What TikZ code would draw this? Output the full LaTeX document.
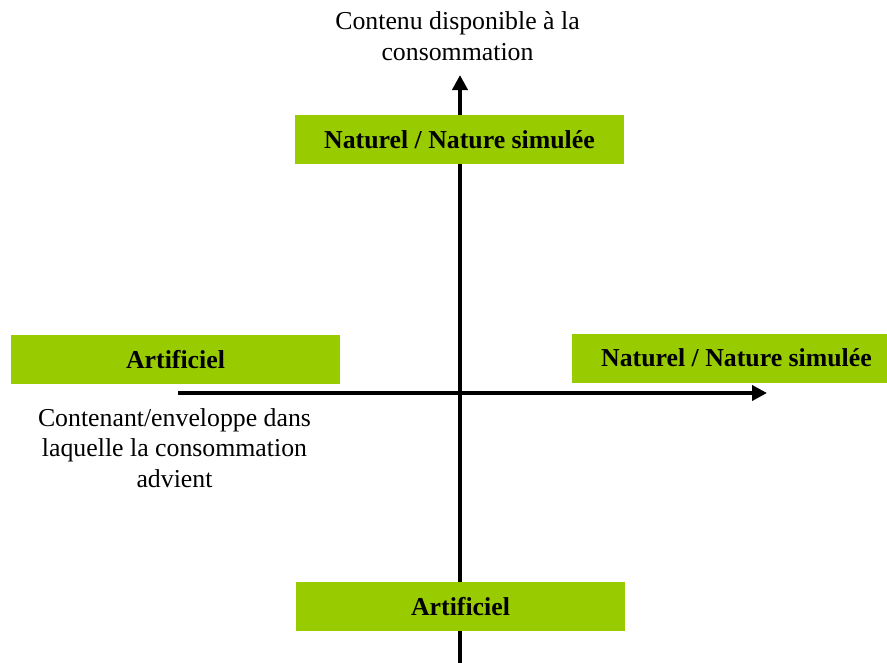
\documentclass[tikz,border=0pt]{standalone}
\usepackage{fontspec}
\setmainfont{Liberation Serif}
\usetikzlibrary{arrows.meta, positioning}
\definecolor{boxGreen}{RGB}{153,204,0}

\begin{document}
\begin{tikzpicture}[x=1pt, y=-1pt,
    every node/.style={align=center, inner sep=0pt, font=\fontsize{25.8}{30.5}\selectfont},
    greenbox/.style={rectangle, fill=boxGreen, minimum width=329pt, minimum height=49pt, font=\fontsize{25.8}{30.5}\selectfont\bfseries},
    axisarrow/.style={line width=4pt, -{Triangle[length=15pt, width=15pt]}}
  ]
    \useasboundingbox (0,0) rectangle (887,662);
    \clip (0,0) rectangle (887,662);

    % Axis end points
    \coordinate (VBottom) at (460,665);
    \coordinate (VTop) at (460,75);
    \coordinate (HLeft) at (178,393);
    \coordinate (HRight) at (767,393);

    % Axes
    \draw[axisarrow] (VBottom) -- (VTop);
    \draw[axisarrow] (HLeft) -- (HRight);

    % Green boxes
    \node[greenbox] (ContentNat) at (459.5,139.5) {Naturel / Nature simulée};
    \node[greenbox] (ContentArt) at (460.5,606.5) {Artificiel};
    \node[greenbox] (EnvArt) at (175.5,359.5) {Artificiel};
    \node[greenbox] (EnvNat) at (736.5,358) {Naturel / Nature simulée};

    % Axis labels (base = last line)
    \node[anchor=base] (ContentLabel) at (457.5,60) {Contenu disponible à la\\consommation};
    \node[anchor=base] (EnvLabel) at (174.5,487) {Contenant/enveloppe dans\\laquelle la consommation\\advient};

\end{tikzpicture}
\end{document}
